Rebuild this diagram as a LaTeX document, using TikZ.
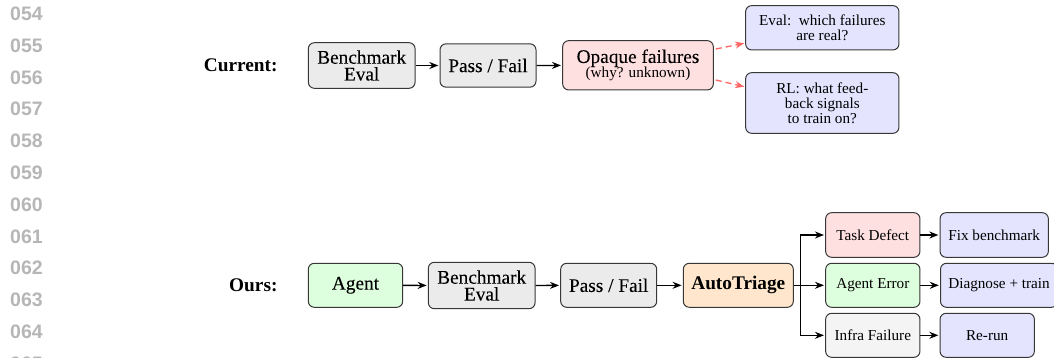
\documentclass[tikz,border=0pt]{standalone}
\usepackage{fontspec}
\setmainfont{Liberation Serif}
\setsansfont{Liberation Sans}
\newfontfamily\largerm[FakeBold=0.02]{Liberation Serif}
\usetikzlibrary{arrows.meta,calc}

\definecolor{lnum}{RGB}{182,182,182}
\definecolor{bordercol}{RGB}{55,55,55}
\definecolor{greyfill}{RGB}{235,235,235}
\definecolor{lightgrey}{RGB}{244,244,244}
\definecolor{pinkfill}{RGB}{255,224,224}
\definecolor{bluefill}{RGB}{228,228,255}
\definecolor{greenfill}{RGB}{221,255,221}
\definecolor{orangefill}{RGB}{255,230,204}
\definecolor{dashred}{RGB}{255,100,100}

\tikzset{
  box/.style={draw=bordercol, line width=1pt, rounded corners=6pt,
    align=center, inner xsep=7.8pt, inner ysep=0pt,
    minimum height=44pt, minimum width=94.3pt,
    font=\rmfamily\mdseries\fontsize{15.2}{15}\selectfont},
  big/.style={font=\largerm\fontsize{19.3}{16.8}\selectfont},
  arr/.style={-{Stealth[length=9pt,width=7pt]}, line width=1.3pt, shorten >=1.2pt},
  dasharr/.style={-{Stealth[length=9pt,width=7pt]}, line width=1.3pt,
    draw=dashred, dash pattern=on 6pt off 4pt},
  rowlabel/.style={font=\rmfamily\bfseries\fontsize{19.3}{20}\selectfont, anchor=east},
  linenum/.style={font=\sffamily\bfseries\fontsize{19.5}{20}\selectfont,
    text=lnum, anchor=base west, inner sep=0pt},
}

\begin{document}
\begin{tikzpicture}[x=1pt, y=-1pt]
\useasboundingbox (0,0) rectangle (1054,358);
\clip (0,0) rectangle (1054,358);

% margin line numbers
\foreach \n [count=\i from 0] in {054,055,056,057,058,059,060,061,062,063,064,065}
  \node[linenum] (ln\n) at (10, 20.7+31.76*\i) {\n};

% current evaluation pipeline
\node[rowlabel] (cur) at (281,65.5) {Current:};
\node[box, big, fill=greyfill, minimum width=106.7pt, minimum height=45.6pt] (b1) at (361.7,65.5) {Benchmark\\Eval};
\node[box, big, fill=greyfill, minimum width=96pt, minimum height=43.3pt] (pf1) at (488,65.5) {Pass / Fail};
\node[box, fill=pinkfill, minimum width=150.6pt, minimum height=49.3pt] (opq) at (638,65.3)
  {{\largerm\fontsize{19.3}{16.3}\selectfont Opaque failures}\\(why? unknown)};
\node[box, fill=bluefill, minimum width=153.3pt, minimum height=44.3pt] (ev) at (822.3,27.8)
  {Eval:\ \ which failures\\are real?};
\node[box, fill=bluefill, minimum width=153.3pt, minimum height=60.6pt] (rl) at (822.3,103)
  {RL: what feed-\\back signals\\to train on?};

\draw[arr] (b1) -- (pf1);
\draw[arr] (pf1) -- (opq);
\draw[dasharr] ($(opq.east)+(2,-16.3)$) -- ($(ev.west)+(-1,15.5)$);
\draw[dasharr] ($(opq.east)+(2,14.7)$) -- ($(rl.west)+(-1,-16.3)$);

% triage pipeline
\node[rowlabel] (ours) at (281,285.3) {Ours:};
\node[box, big, fill=greenfill, minimum width=94.4pt] (ag) at (355.5,285.3) {Agent};
\node[box, big, fill=greyfill, minimum width=106.7pt, minimum height=46.4pt] (b2) at (481.7,285.5) {Benchmark\\Eval};
\node[box, big, fill=greyfill, minimum width=96pt] (pf2) at (608.7,285.3) {Pass / Fail};
\node[box, fill=orangefill, minimum width=110pt, font=\rmfamily\bfseries\fontsize{19.3}{17}\selectfont] (at) at (738.3,285.3) {AutoTriage};

\node[box, fill=pinkfill, minimum height=44.6pt] (td) at (872.8,235) {Task Defect};
\node[box, fill=greenfill] (ae) at (872.8,285.3) {Agent Error};
\node[box, fill=lightgrey] (inf) at (872.8,335.3) {Infra Failure};

\node[box, fill=bluefill, minimum width=108.3pt, minimum height=44.6pt] (fix) at (994.2,235) {Fix benchmark};
\node[box, fill=bluefill, anchor=west] (dg) at (940,285.3) {Diagnose + train};
\node[box, fill=bluefill] (rr) at (987.2,335.3) {Re-run};

\draw[arr] (ag) -- (b2);
\draw[arr] (b2) -- (pf2);
\draw[arr] (pf2) -- (at);
\coordinate (split) at ($(at.east)+(6.7,0)$);
\draw[arr] (at.east) -- (ae.west);
\draw[arr] (split) |- (td.west);
\draw[arr] (split) |- (inf.west);
\draw[arr] (td) -- (fix);
\draw[arr] (ae) -- (dg);
\draw[arr] (inf) -- (rr);
\end{tikzpicture}
\end{document}
